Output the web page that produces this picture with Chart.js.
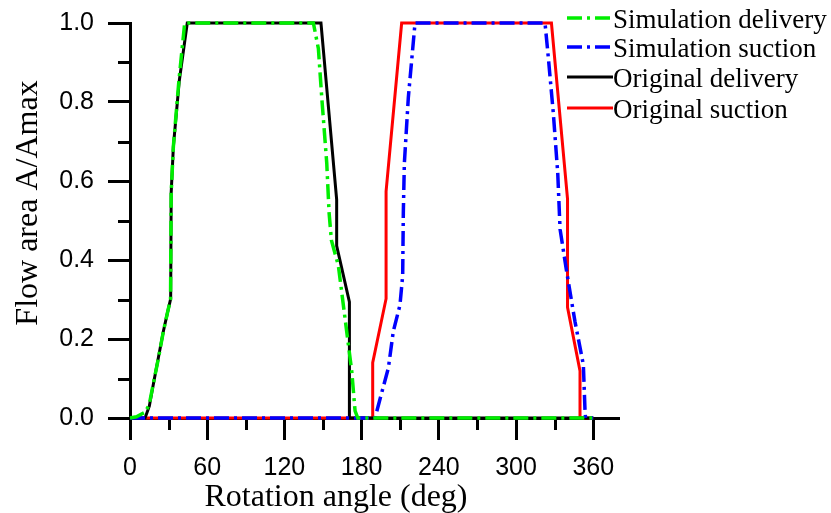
<!DOCTYPE html>
<html>
<head>
<meta charset="utf-8">
<title>Flow area vs rotation angle</title>
<script src="https://cdn.jsdelivr.net/npm/chart.js@4/dist/chart.umd.min.js"></script>
<style>
  html, body { margin: 0; padding: 0; background: #ffffff; }
  #wrap { width: 831px; height: 513px; }
</style>
</head>
<body>
<div id="wrap"><canvas id="c" width="831" height="513"></canvas></div>
<script>
// ---- data: rotation angle (deg) and normalised flow area A/Amax ----
const seriesLabels = ['Simulation delivery', 'Simulation suction', 'Original delivery', 'Original suction'];
const seriesColors = ['#00ee00', '#0000ff', '#000000', '#ff0000'];

const simDeliveryAngle = [0, 5, 9, 12, 15, 18, 22, 26, 29, 31.5, 32, 33.7, 38, 42.5, 142.5, 146.4, 149, 152.9, 154.7, 156.5, 161.9, 168.4, 172.3, 174.9, 177, 360];
const simDeliveryArea  = [0, 0.003, 0.01, 0.015, 0.035, 0.085, 0.15, 0.22, 0.265, 0.3, 0.57, 0.687, 0.854, 1, 1, 0.935, 0.812, 0.645, 0.52, 0.45, 0.386, 0.219, 0.119, 0.018, 0, 0];

const simSuctionAngle = [0, 190.4, 194.3, 200.8, 204.6, 209.8, 211.9, 212.4, 213.2, 216.3, 221.5, 322.5, 325.1, 329, 332.4, 334.2, 339.4, 345.8, 352.3, 353.6, 354, 360];
const simSuctionArea  = [0, 0, 0.048, 0.127, 0.219, 0.286, 0.361, 0.52, 0.645, 0.812, 1, 1, 0.912, 0.77, 0.62, 0.478, 0.369, 0.244, 0.135, 0.018, 0, 0];

const origDeliveryAngle = [0, 11.7, 15, 18.1, 22, 25.9, 29, 31.6, 32, 33.7, 38.3, 44.5, 148.4, 160.6, 160.6, 170.5, 170.5, 360];
const origDeliveryArea  = [0, 0, 0.03, 0.085, 0.152, 0.219, 0.265, 0.302, 0.57, 0.687, 0.854, 1, 1, 0.553, 0.436, 0.294, 0, 0];

const origSuctionAngle = [0, 188.6, 188.6, 199, 199, 211.1, 327.5, 340, 340, 349.7, 349.7, 360];
const origSuctionArea  = [0, 0, 0.14, 0.302, 0.574, 1, 1, 0.555, 0.28, 0.119, 0, 0];

const xTickValues = [0, 60, 120, 180, 240, 300, 360];
const xTickLabels = ['0', '60', '120', '180', '240', '300', '360'];
const xMinorValues = [30, 90, 150, 210, 270, 330];
const yTickValues = [0, 0.2, 0.4, 0.6, 0.8, 1.0];
const yTickLabels = ['0.0', '0.2', '0.4', '0.6', '0.8', '1.0'];
const yMinorValues = [0.1, 0.3, 0.5, 0.7, 0.9];

const xTitle = 'Rotation angle (deg)';
const yTitle = 'Flow area A/Amax';

// ---- helpers ----
const zipPoints = (xs, ys) => xs.map((x, i) => ({ x: x, y: ys[i] }));
const dashDot = [15, 5, 3, 5];

function lineSet(label, xs, ys, color, dashed) {
  return {
    label: label,
    data: zipPoints(xs, ys),
    borderColor: color,
    backgroundColor: color,
    borderWidth: dashed ? 3.5 : 3,
    borderDash: dashed ? dashDot : [],
    borderCapStyle: 'butt',
    borderJoinStyle: 'miter',
    pointRadius: 0,
    pointHoverRadius: 0,
    tension: 0,
    fill: false,
    clip: false
  };
}

// Minor tick marks, axis titles and the legend block
const decorPlugin = {
  id: 'decor',
  beforeDatasetsDraw(chart) {
    const { ctx, chartArea, scales } = chart;
    ctx.save();
    ctx.strokeStyle = '#000';
    ctx.lineWidth = 3;
    ctx.lineCap = 'butt';
    ctx.beginPath();
    xMinorValues.forEach(v => {
      const px = Math.round(scales.x.getPixelForValue(v)) + 0.5;
      ctx.moveTo(px, chartArea.bottom);
      ctx.lineTo(px, chartArea.bottom + 12);
    });
    yMinorValues.forEach(v => {
      const py = Math.round(scales.y.getPixelForValue(v)) + 0.5;
      ctx.moveTo(chartArea.left, py);
      ctx.lineTo(chartArea.left - 12, py);
    });
    ctx.stroke();
    ctx.restore();
  },
  afterDraw(chart) {
    const { ctx } = chart;
    ctx.save();
    ctx.fillStyle = '#000';
    ctx.font = '32px "Liberation Serif", "Times New Roman", serif';
    ctx.textAlign = 'center';
    ctx.textBaseline = 'alphabetic';
    ctx.fillText(xTitle, 336, 506);

    ctx.save();
    ctx.translate(37, 203);
    ctx.rotate(-Math.PI / 2);
    ctx.fillText(yTitle, 0, 0);
    ctx.restore();

    // legend
    const rowY = [20, 49, 79, 110];
    ctx.font = '27px "Liberation Serif", "Times New Roman", serif';
    ctx.textAlign = 'left';
    ctx.textBaseline = 'middle';
    chart.data.datasets.forEach((ds, i) => {
      const y = rowY[i];
      ctx.save();
      ctx.strokeStyle = ds.borderColor;
      ctx.lineWidth = ds.borderWidth;
      ctx.setLineDash(ds.borderDash);
      ctx.beginPath();
      ctx.moveTo(567, y - 2);
      ctx.lineTo(613, y - 2);
      ctx.stroke();
      ctx.restore();
      ctx.fillText(ds.label, 613, y + 1);
    });
    ctx.restore();
  }
};

const tickFont = { family: '"Liberation Sans", Arial, sans-serif', size: 25 };

new Chart(document.getElementById('c'), {
  type: 'line',
  data: {
    datasets: [
      lineSet(seriesLabels[0], simDeliveryAngle, simDeliveryArea, seriesColors[0], true),
      lineSet(seriesLabels[1], simSuctionAngle, simSuctionArea, seriesColors[1], true),
      lineSet(seriesLabels[2], origDeliveryAngle, origDeliveryArea, seriesColors[2], false),
      lineSet(seriesLabels[3], origSuctionAngle, origSuctionArea, seriesColors[3], false)
    ]
  },
  options: {
    responsive: false,
    devicePixelRatio: 1,
    animation: false,
    events: [],
    layout: { padding: { left: 0, top: 23, right: 212, bottom: 0 } },
    plugins: {
      legend: { display: false },
      tooltip: { enabled: false },
      title: { display: false }
    },
    scales: {
      x: {
        type: 'linear',
        min: 0,
        max: 380,
        afterBuildTicks: s => { s.ticks = xTickValues.map(v => ({ value: v })); },
        afterFit: s => { s.height = 95; s.paddingLeft = 0; s.paddingRight = 0; },
        ticks: {
          font: tickFont,
          color: '#000',
          padding: 13,
          maxRotation: 0,
          autoSkip: false,
          callback: (v, i) => xTickLabels[i]
        },
        grid: { drawOnChartArea: false, drawTicks: true, tickLength: 22, tickWidth: 3, tickColor: '#000' },
        border: { display: true, width: 3, color: '#000' }
      },
      y: {
        type: 'linear',
        min: 0,
        max: 1,
        afterBuildTicks: s => { s.ticks = yTickValues.map(v => ({ value: v })); },
        afterFit: s => { s.width = 130; s.paddingTop = 0; s.paddingBottom = 0; },
        ticks: {
          font: tickFont,
          color: '#000',
          padding: 14,
          autoSkip: false,
          callback: (v, i) => yTickLabels[i]
        },
        grid: { drawOnChartArea: false, drawTicks: true, tickLength: 22, tickWidth: 3, tickColor: '#000' },
        border: { display: true, width: 3, color: '#000' }
      }
    }
  },
  plugins: [decorPlugin]
});
</script>
</body>
</html>
